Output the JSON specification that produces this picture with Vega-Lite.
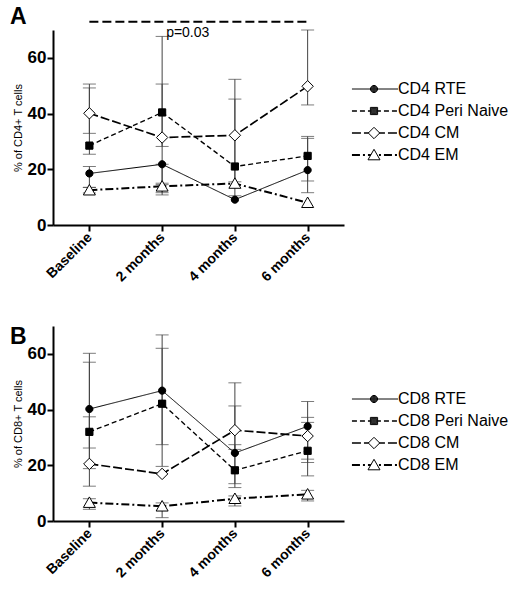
{
  "$schema": "https://vega.github.io/schema/vega-lite/v6.json",
  "padding": {"left": 10, "top": 5, "right": 0, "bottom": 0},
  "spacing": 42,
  "config": {
    "font": "Liberation Sans",
    "view": {"stroke": null},
    "axis": {"grid": false, "domainColor": "black", "tickColor": "black", "labelColor": "black", "titleColor": "black", "domainWidth": 2, "tickWidth": 2, "tickSize": 6},
    "title": {"color": "black"}
  },
  "datasets": {
    "cd4": [
      {"series": "CD4 RTE", "time": "Baseline", "value": 18.5, "lo": 13.5, "hi": 21.0},
      {"series": "CD4 RTE", "time": "2 months", "value": 21.8, "lo": 11.6, "hi": 21.8},
      {"series": "CD4 RTE", "time": "4 months", "value": 9.1, "lo": null, "hi": null},
      {"series": "CD4 RTE", "time": "6 months", "value": 19.7, "lo": 11.6, "hi": 31.1},
      {"series": "CD4 Peri Naive", "time": "Baseline", "value": 28.5, "lo": 25.4, "hi": 49.2},
      {"series": "CD4 Peri Naive", "time": "2 months", "value": 40.4, "lo": 28.2, "hi": 67.7},
      {"series": "CD4 Peri Naive", "time": "4 months", "value": 21.0, "lo": 10.5, "hi": 45.2},
      {"series": "CD4 Peri Naive", "time": "6 months", "value": 24.8, "lo": 15.8, "hi": 31.8},
      {"series": "CD4 CM", "time": "Baseline", "value": 40.1, "lo": 32.9, "hi": 50.6},
      {"series": "CD4 CM", "time": "2 months", "value": 31.4, "lo": 15.0, "hi": 50.6},
      {"series": "CD4 CM", "time": "4 months", "value": 32.2, "lo": 15.5, "hi": 52.3},
      {"series": "CD4 CM", "time": "6 months", "value": 49.8, "lo": 43.1, "hi": 70.0},
      {"series": "CD4 EM", "time": "Baseline", "value": 12.5, "lo": 11.5, "hi": 13.5},
      {"series": "CD4 EM", "time": "2 months", "value": 13.9, "lo": 10.8, "hi": 14.5},
      {"series": "CD4 EM", "time": "4 months", "value": 14.9, "lo": null, "hi": null},
      {"series": "CD4 EM", "time": "6 months", "value": 8.0, "lo": null, "hi": null}
    ],
    "cd8": [
      {"series": "CD8 RTE", "time": "Baseline", "value": 40.2, "lo": 26.2, "hi": 60.2},
      {"series": "CD8 RTE", "time": "2 months", "value": 46.8, "lo": 27.4, "hi": 66.8},
      {"series": "CD8 RTE", "time": "4 months", "value": 24.4, "lo": 12.0, "hi": 41.3},
      {"series": "CD8 RTE", "time": "6 months", "value": 34.0, "lo": 22.2, "hi": 42.9},
      {"series": "CD8 Peri Naive", "time": "Baseline", "value": 32.0, "lo": 12.5, "hi": 57.0},
      {"series": "CD8 Peri Naive", "time": "2 months", "value": 42.1, "lo": 19.6, "hi": 62.0},
      {"series": "CD8 Peri Naive", "time": "4 months", "value": 18.2, "lo": 13.4, "hi": 27.4},
      {"series": "CD8 Peri Naive", "time": "6 months", "value": 25.2, "lo": 16.2, "hi": 35.4},
      {"series": "CD8 CM", "time": "Baseline", "value": 20.5, "lo": 18.8, "hi": 37.4},
      {"series": "CD8 CM", "time": "2 months", "value": 16.9, "lo": null, "hi": null},
      {"series": "CD8 CM", "time": "4 months", "value": 32.6, "lo": 25.7, "hi": 49.6},
      {"series": "CD8 CM", "time": "6 months", "value": 30.5, "lo": 21.0, "hi": 37.2},
      {"series": "CD8 EM", "time": "Baseline", "value": 6.6, "lo": 4.2, "hi": 8.0},
      {"series": "CD8 EM", "time": "2 months", "value": 5.3, "lo": 1.2, "hi": 6.5},
      {"series": "CD8 EM", "time": "4 months", "value": 8.0, "lo": 5.4, "hi": 9.0},
      {"series": "CD8 EM", "time": "6 months", "value": 9.6, "lo": 7.2, "hi": 11.0}
    ],
    "sig": [
      {"from": "Baseline", "to": "6 months", "label": "p=0.03", "labelAt": "2 months"}
    ]
  },
  "resolve": {"scale": {"strokeDash": "independent", "shape": "independent", "fill": "independent", "strokeWidth": "independent"}},
  "vconcat": [
    {
      "title": {"text": "A", "anchor": "start", "frame": "group", "dx": -43, "dy": 12, "fontSize": 23, "fontWeight": "bold", "offset": 4},
      "width": 291,
      "height": 195,
      "data": {"name": "cd4"},
      "layer": [
        {
          "mark": {"type": "rule", "color": "#444", "strokeWidth": 1},
          "encoding": {
            "x": {"field": "time", "type": "nominal", "scale": {"type": "point", "padding": 0.5, "domain": ["Baseline", "2 months", "4 months", "6 months"]}, "axis": {"title": null, "labelAngle": -45, "labelFontSize": 14, "labelFontWeight": "bold", "labelBaseline": "middle", "labelAlign": "right", "labelPadding": 4}},
            "y": {"field": "lo", "type": "quantitative", "scale": {"domain": [0, 70], "nice": false}, "axis": {"values": [0, 20, 40, 60], "labelFontSize": 17, "labelFontWeight": "bold", "labelPadding": 1, "titleFontSize": 11, "titleFontWeight": "normal", "titlePadding": 4}, "title": "% of CD4+ T cells"},
            "y2": {"field": "hi"}
          }
        },
        {
          "mark": {"type": "tick", "color": "#444", "thickness": 1, "size": 13},
          "encoding": {
            "x": {"field": "time", "type": "nominal"},
            "y": {"field": "lo", "type": "quantitative", "title": "% of CD4+ T cells"}
          }
        },
        {
          "mark": {"type": "tick", "color": "#444", "thickness": 1, "size": 13},
          "encoding": {
            "x": {"field": "time", "type": "nominal"},
            "y": {"field": "hi", "type": "quantitative", "title": "% of CD4+ T cells"}
          }
        },
        {
          "mark": {"type": "line", "color": "black"},
          "encoding": {
            "x": {"field": "time", "type": "nominal"},
            "y": {"field": "value", "type": "quantitative", "title": "% of CD4+ T cells"},
            "order": {"value": null},
            "strokeDash": {"field": "series", "type": "nominal", "scale": {"domain": ["CD4 RTE", "CD4 Peri Naive", "CD4 CM", "CD4 EM"], "range": [[1, 0], [5, 3], [9, 3], [8, 3, 2, 3]]}, "legend": {"orient": "none", "legendX": 314, "legendY": 51, "title": null, "symbolType": "M-5,0L5,0", "symbolSize": 85, "symbolStrokeColor": "black", "symbolStrokeWidth": 1.6, "labelFontSize": 16, "labelOffset": 15, "rowPadding": 6, "padding": 0, "zindex": 0, "labelColor": "black"}},
            "strokeWidth": {"field": "series", "type": "nominal", "scale": {"domain": ["CD4 RTE", "CD4 Peri Naive", "CD4 CM", "CD4 EM"], "range": [1, 2, 2, 2]}, "legend": null}
          }
        },
        {
          "mark": {"type": "point", "filled": true, "stroke": "black", "strokeWidth": 1, "size": 144, "opacity": 1},
          "encoding": {
            "x": {"field": "time", "type": "nominal"},
            "y": {"field": "value", "type": "quantitative", "title": "% of CD4+ T cells"},
            "shape": {"field": "series", "type": "nominal", "sort": ["CD4 RTE", "CD4 Peri Naive", "CD4 CM", "CD4 EM"], "scale": {"range": ["M-0.6,0A0.6,0.6,0,1,0,0.6,0A0.6,0.6,0,1,0,-0.6,0ZM-0.48,0A0.48,0.48,0,1,0,0.48,0A0.48,0.48,0,1,0,-0.48,0ZM-0.36,0A0.36,0.36,0,1,0,0.36,0A0.36,0.36,0,1,0,-0.36,0ZM-0.24,0A0.24,0.24,0,1,0,0.24,0A0.24,0.24,0,1,0,-0.24,0ZM-0.12,0A0.12,0.12,0,1,0,0.12,0A0.12,0.12,0,1,0,-0.12,0Z", "M-0.6,-0.6H0.6V0.6H-0.6ZM-0.45,-0.45H0.45V0.45H-0.45ZM-0.3,-0.3H0.3V0.3H-0.3ZM-0.15,-0.15H0.15V0.15H-0.15ZM-0.05,0H0.05", "M0,-0.95L0.95,0L0,0.95L-0.95,0Z", "M0,-0.95L1,0.8L-1,0.8Z"]}, "legend": {"orient": "none", "legendX": 313, "legendY": 51, "title": null, "symbolSize": 144, "symbolFillColor": "white", "symbolStrokeColor": "black", "symbolStrokeWidth": 1, "labelFontSize": 16, "labelExpr": "''", "rowPadding": 6, "padding": 0, "zindex": 1}},
            "fill": {"field": "series", "type": "nominal", "sort": ["CD4 RTE", "CD4 Peri Naive", "CD4 CM", "CD4 EM"], "scale": {"range": ["black", "black", "white", "white"]}, "legend": null}
          }
        },
        {
          "data": {"name": "sig"},
          "mark": {"type": "rule", "color": "black", "strokeWidth": 2, "strokeDash": [9, 4]},
          "encoding": {
            "x": {"field": "from", "type": "nominal"},
            "x2": {"field": "to"},
            "y": {"datum": 73}
          }
        },
        {
          "data": {"name": "sig"},
          "mark": {"type": "text", "align": "left", "baseline": "middle", "dx": 4, "dy": 11, "fontSize": 14, "color": "black"},
          "encoding": {
            "x": {"field": "labelAt", "type": "nominal"},
            "y": {"datum": 73},
            "text": {"field": "label"}
          }
        }
      ]
    },
    {
      "title": {"text": "B", "anchor": "start", "frame": "group", "dx": -43, "dy": 27, "fontSize": 23, "fontWeight": "bold", "offset": 4},
      "width": 291,
      "height": 195,
      "data": {"name": "cd8"},
      "layer": [
        {
          "mark": {"type": "rule", "color": "#444", "strokeWidth": 1},
          "encoding": {
            "x": {"field": "time", "type": "nominal", "scale": {"type": "point", "padding": 0.5, "domain": ["Baseline", "2 months", "4 months", "6 months"]}, "axis": {"title": null, "labelAngle": -45, "labelFontSize": 14, "labelFontWeight": "bold", "labelBaseline": "middle", "labelAlign": "right", "labelPadding": 4}},
            "y": {"field": "lo", "type": "quantitative", "scale": {"domain": [0, 70], "nice": false}, "axis": {"values": [0, 20, 40, 60], "labelFontSize": 17, "labelFontWeight": "bold", "labelPadding": 1, "titleFontSize": 11, "titleFontWeight": "normal", "titlePadding": 4}, "title": "% of CD8+ T cells"},
            "y2": {"field": "hi"}
          }
        },
        {
          "mark": {"type": "tick", "color": "#444", "thickness": 1, "size": 13},
          "encoding": {
            "x": {"field": "time", "type": "nominal"},
            "y": {"field": "lo", "type": "quantitative", "title": "% of CD8+ T cells"}
          }
        },
        {
          "mark": {"type": "tick", "color": "#444", "thickness": 1, "size": 13},
          "encoding": {
            "x": {"field": "time", "type": "nominal"},
            "y": {"field": "hi", "type": "quantitative", "title": "% of CD8+ T cells"}
          }
        },
        {
          "mark": {"type": "line", "color": "black"},
          "encoding": {
            "x": {"field": "time", "type": "nominal"},
            "y": {"field": "value", "type": "quantitative", "title": "% of CD8+ T cells"},
            "order": {"value": null},
            "strokeDash": {"field": "series", "type": "nominal", "scale": {"domain": ["CD8 RTE", "CD8 Peri Naive", "CD8 CM", "CD8 EM"], "range": [[1, 0], [5, 3], [9, 3], [8, 3, 2, 3]]}, "legend": {"orient": "none", "legendX": 314, "legendY": 65, "title": null, "symbolType": "M-5,0L5,0", "symbolSize": 85, "symbolStrokeColor": "black", "symbolStrokeWidth": 1.6, "labelFontSize": 16, "labelOffset": 15, "rowPadding": 6, "padding": 0, "zindex": 0, "labelColor": "black"}},
            "strokeWidth": {"field": "series", "type": "nominal", "scale": {"domain": ["CD8 RTE", "CD8 Peri Naive", "CD8 CM", "CD8 EM"], "range": [1, 2, 2, 2]}, "legend": null}
          }
        },
        {
          "mark": {"type": "point", "filled": true, "stroke": "black", "strokeWidth": 1, "size": 144, "opacity": 1},
          "encoding": {
            "x": {"field": "time", "type": "nominal"},
            "y": {"field": "value", "type": "quantitative", "title": "% of CD8+ T cells"},
            "shape": {"field": "series", "type": "nominal", "sort": ["CD8 RTE", "CD8 Peri Naive", "CD8 CM", "CD8 EM"], "scale": {"range": ["M-0.6,0A0.6,0.6,0,1,0,0.6,0A0.6,0.6,0,1,0,-0.6,0ZM-0.48,0A0.48,0.48,0,1,0,0.48,0A0.48,0.48,0,1,0,-0.48,0ZM-0.36,0A0.36,0.36,0,1,0,0.36,0A0.36,0.36,0,1,0,-0.36,0ZM-0.24,0A0.24,0.24,0,1,0,0.24,0A0.24,0.24,0,1,0,-0.24,0ZM-0.12,0A0.12,0.12,0,1,0,0.12,0A0.12,0.12,0,1,0,-0.12,0Z", "M-0.6,-0.6H0.6V0.6H-0.6ZM-0.45,-0.45H0.45V0.45H-0.45ZM-0.3,-0.3H0.3V0.3H-0.3ZM-0.15,-0.15H0.15V0.15H-0.15ZM-0.05,0H0.05", "M0,-0.95L0.95,0L0,0.95L-0.95,0Z", "M0,-0.95L1,0.8L-1,0.8Z"]}, "legend": {"orient": "none", "legendX": 313, "legendY": 65, "title": null, "symbolSize": 144, "symbolFillColor": "white", "symbolStrokeColor": "black", "symbolStrokeWidth": 1, "labelFontSize": 16, "labelExpr": "''", "rowPadding": 6, "padding": 0, "zindex": 1}},
            "fill": {"field": "series", "type": "nominal", "sort": ["CD8 RTE", "CD8 Peri Naive", "CD8 CM", "CD8 EM"], "scale": {"range": ["black", "black", "white", "white"]}, "legend": null}
          }
        }
      ]
    }
  ]
}
